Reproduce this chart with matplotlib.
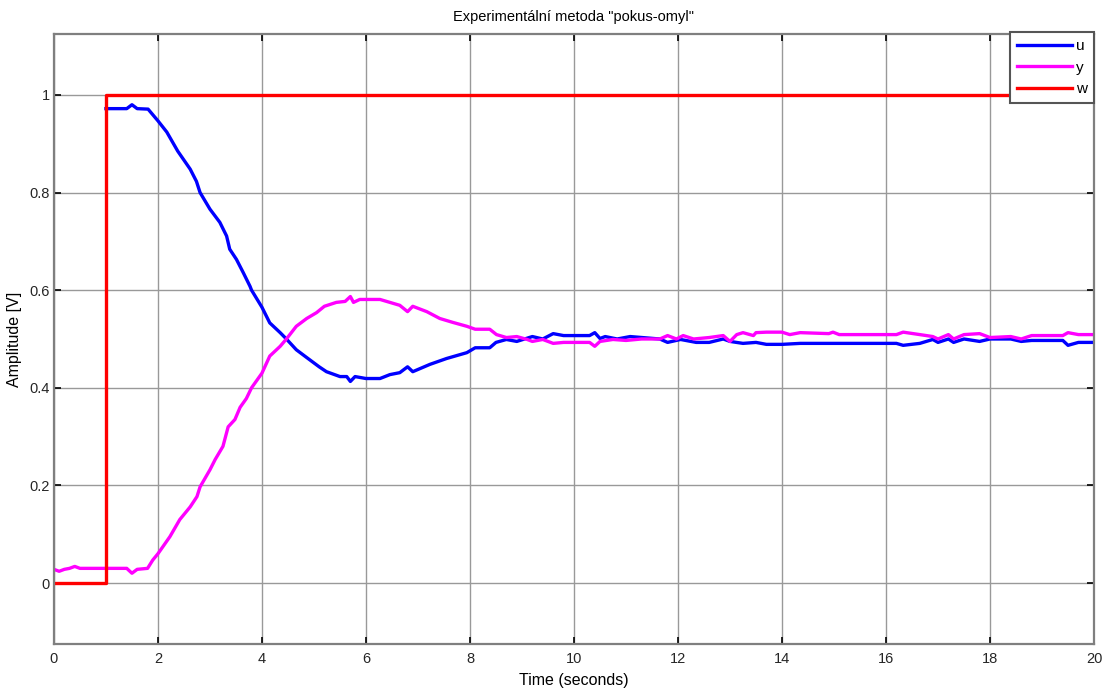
import matplotlib.pyplot as plt
import numpy as np

plt.rcParams['font.family'] = ['Liberation Sans', 'DejaVu Sans']

# reference signal w (step at t = 1 s)
t_w = [0, 1.0, 1.0, 20]
w = [0, 0, 1, 1]

# plant output y
t_y = [0, 0.1, 0.2, 0.3, 0.4, 0.5, 0.8, 1.2, 1.4, 1.5, 1.6, 1.8, 1.9, 2.0,
       2.23, 2.42, 2.62, 2.75, 2.81, 3.0, 3.1, 3.25, 3.35, 3.48, 3.58, 3.7,
       3.8, 4.0, 4.15, 4.35, 4.47, 4.66, 4.86, 5.05, 5.2, 5.43, 5.6, 5.7,
       5.76, 5.88, 6.0, 6.27, 6.46, 6.65, 6.8, 6.9, 7.17, 7.42, 7.67, 7.94,
       8.1, 8.38, 8.51, 8.7, 8.9, 9.1, 9.2, 9.4, 9.6, 9.8, 10.0, 10.3, 10.4,
       10.5, 10.75, 11.0, 11.3, 11.65, 11.8, 11.97, 12.1, 12.3, 12.6, 12.87,
       13.0, 13.13, 13.25, 13.45, 13.5, 13.7, 14.0, 14.15, 14.35, 14.9, 14.98,
       15.1, 16.2, 16.33, 16.65, 16.9, 17.0, 17.2, 17.3, 17.5, 17.8, 18.0,
       18.4, 18.6, 18.8, 19.4, 19.5, 19.7, 20.0]
y = [0.028, 0.024, 0.028, 0.03, 0.034, 0.03, 0.03, 0.03, 0.03, 0.02, 0.028,
     0.03, 0.047, 0.06, 0.095, 0.13, 0.156, 0.177, 0.197, 0.232, 0.253, 0.28,
     0.32, 0.335, 0.36, 0.378, 0.40, 0.43, 0.465, 0.485, 0.50, 0.526, 0.542,
     0.554, 0.567, 0.575, 0.577, 0.587, 0.575, 0.581, 0.581, 0.581, 0.575,
     0.569, 0.556, 0.567, 0.556, 0.542, 0.534, 0.526, 0.52, 0.52, 0.509,
     0.503, 0.505, 0.499, 0.495, 0.499, 0.491, 0.493, 0.493, 0.493, 0.485,
     0.495, 0.499, 0.497, 0.50, 0.50, 0.507, 0.50, 0.507, 0.50, 0.503, 0.507,
     0.495, 0.509, 0.513, 0.507, 0.513, 0.514, 0.514, 0.509, 0.513, 0.511,
     0.514, 0.509, 0.509, 0.514, 0.509, 0.505, 0.50, 0.509, 0.50, 0.509,
     0.511, 0.503, 0.505, 0.50, 0.507, 0.507, 0.513, 0.509, 0.509]

# controller output u
t_u = [1.0, 1.4, 1.5, 1.6, 1.81, 2.0, 2.17, 2.38, 2.62, 2.74, 2.81, 3.0,
       3.19, 3.32, 3.38, 3.51, 3.64, 3.77, 3.8, 4.0, 4.15, 4.35, 4.47, 4.66,
       4.86, 5.1, 5.24, 5.5, 5.63, 5.7, 5.79, 6.0, 6.27, 6.46, 6.65, 6.8,
       6.9, 7.23, 7.55, 7.94, 8.1, 8.38, 8.5, 8.7, 8.9, 9.2, 9.4, 9.6, 9.8,
       10.3, 10.4, 10.5, 10.6, 10.83, 11.08, 11.65, 11.8, 12.05, 12.35, 12.6,
       12.87, 13.0, 13.25, 13.5, 13.7, 14.0, 14.35, 16.2, 16.33, 16.65, 16.9,
       17.0, 17.2, 17.3, 17.5, 17.8, 18.0, 18.4, 18.6, 18.8, 19.4, 19.5, 19.7,
       20.0]
u = [0.972, 0.972, 0.98, 0.972, 0.971, 0.947, 0.924, 0.885, 0.848, 0.823,
     0.80, 0.766, 0.739, 0.711, 0.684, 0.663, 0.636, 0.608, 0.60, 0.565,
     0.533, 0.513, 0.50, 0.478, 0.462, 0.443, 0.433, 0.423, 0.423, 0.413,
     0.423, 0.419, 0.419, 0.427, 0.431, 0.443, 0.433, 0.448, 0.46, 0.472,
     0.482, 0.482, 0.493, 0.499, 0.495, 0.505, 0.50, 0.511, 0.507, 0.507,
     0.513, 0.501, 0.505, 0.50, 0.505, 0.50, 0.493, 0.499, 0.493, 0.493,
     0.50, 0.495, 0.491, 0.493, 0.489, 0.489, 0.491, 0.491, 0.487, 0.491,
     0.499, 0.493, 0.50, 0.493, 0.50, 0.495, 0.50, 0.50, 0.495, 0.497,
     0.497, 0.487, 0.493, 0.493]

fig = plt.figure(figsize=(11.1, 6.89), dpi=100)
ax = fig.add_axes([0.0486, 0.0653, 0.937, 0.8854])

ax.plot(t_u, u, color='#0000ff', lw=2.4, label='u', solid_joinstyle='round')
ax.plot(t_y, y, color='#ff00ff', lw=2.4, label='y', solid_joinstyle='round')
ax.plot(t_w, w, color='#ff0000', lw=2.4, label='w')

ax.set_xlim(0, 20)
ax.set_ylim(-0.125, 1.125)
ax.set_xticks(np.arange(0, 21, 2))
ax.set_yticks([0, 0.2, 0.4, 0.6, 0.8, 1])
ax.set_yticklabels(['0', '0.2', '0.4', '0.6', '0.8', '1'])
ax.grid(True, color='#999999', lw=1.0)
ax.set_axisbelow(True)
ax.tick_params(axis='both', direction='in', length=5, width=1.2, color='black',
               top=True, right=True, labelsize=10.5, labelcolor='#262626')
ax.tick_params(axis='y', pad=3)
ax.tick_params(axis='x', pad=6)
for s in ax.spines.values():
    s.set_color('#7f7f7f')
    s.set_linewidth(1.6)

ax.set_title('Experimentální metoda "pokus-omyl"', fontsize=10.5, pad=9)
ax.set_xlabel('Time (seconds)', fontsize=11.5, labelpad=5)
ax.set_ylabel('Amplitude [V]', fontsize=11.5, labelpad=5)

leg = ax.legend(loc='upper right', bbox_to_anchor=(1.0, 1.003), fontsize=11,
                handlelength=3.6, handletextpad=0.3, borderaxespad=0,
                labelspacing=0.5, fancybox=False, framealpha=1, borderpad=0.45)
leg.get_frame().set_edgecolor('#555555')
leg.get_frame().set_linewidth(1.5)

fig.savefig('out.png', dpi=100)
